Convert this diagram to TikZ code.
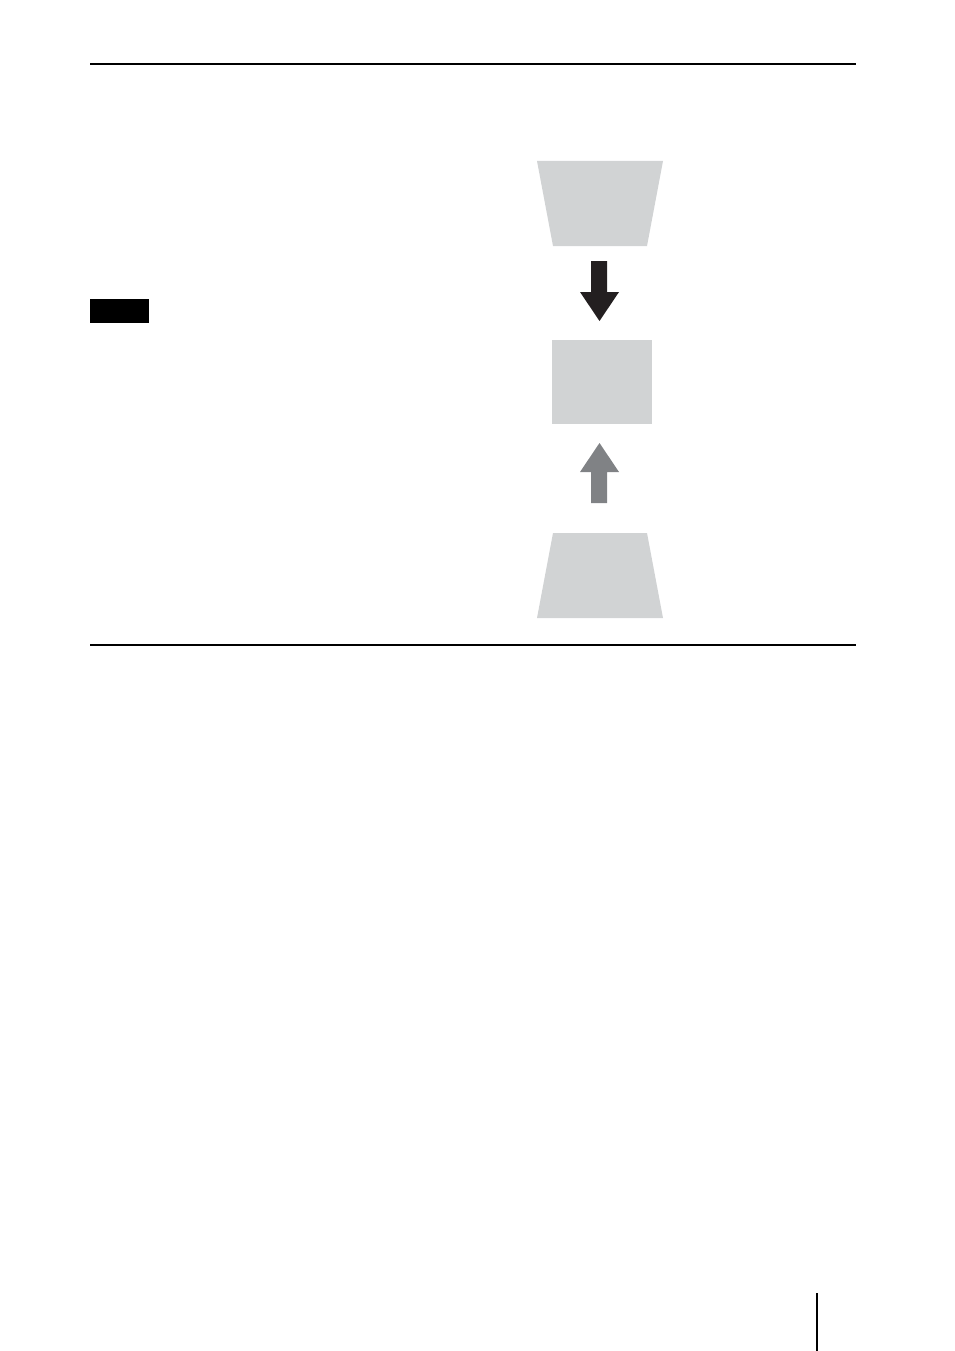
\documentclass[tikz,border=0pt]{standalone}
\definecolor{shapegray}{RGB}{209,211,212}
\definecolor{darkarrow}{RGB}{35,31,32}
\definecolor{midarrow}{RGB}{128,130,133}
\begin{document}
\begin{tikzpicture}[x=1pt,y=-1pt,
  rule/.style={line width=1.1pt,draw=black},
  panel/.style={fill=shapegray,draw=none},
  blockarrow/.style={draw=none}]
\useasboundingbox (0,0) rectangle (954,1351);
% horizontal rules
\draw[rule] (90,64) -- (856,64);
\draw[rule] (90,645) -- (856,645);
% black label box
\fill[black] (90,299) rectangle (149,323);
% top trapezoid (keystone)
\path[panel] (537,161) -- (663,161) -- (647,246) -- (553,246) -- cycle;
% down arrow
\path[blockarrow,fill=darkarrow] (591,261) -- (607,261) -- (607,292) -- (619,292) -- (599.5,321) -- (580,292) -- (591,292) -- cycle;
% corrected square
\path[panel] (552,340) rectangle (652,424);
% up arrow
\path[blockarrow,fill=midarrow] (599.5,443) -- (619,472) -- (607,472) -- (607,503) -- (591,503) -- (591,472) -- (580,472) -- cycle;
% bottom trapezoid
\path[panel] (553,533) -- (647,533) -- (663,618) -- (537,618) -- cycle;
% page edge mark
\draw[line width=1.1pt] (817,1293) -- (817,1351);
\end{tikzpicture}
\end{document}
